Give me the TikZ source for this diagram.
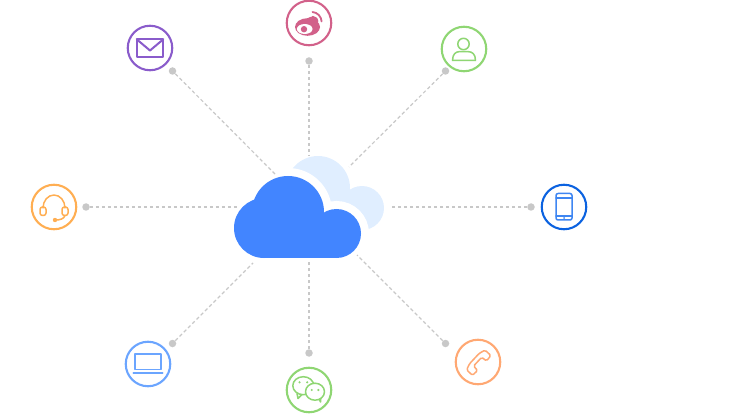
\documentclass[tikz,border=0pt]{standalone}
\usepackage{xcolor}
\definecolor{linegray}{HTML}{C8C8C8}
\definecolor{cloudblue}{HTML}{4285FF}
\definecolor{cloudlight}{HTML}{E0EEFF}
\definecolor{mailcol}{HTML}{8A5CCB}
\definecolor{weibocol}{HTML}{D2618A}
\definecolor{usercol}{HTML}{8FD673}
\definecolor{headcol}{HTML}{FFAE52}
\definecolor{tabletcol}{HTML}{0B62E0}
\definecolor{tabletin}{HTML}{3F86F2}
\definecolor{laptopcol}{HTML}{6BA5FF}
\definecolor{wechatcol}{HTML}{8FD673}
\definecolor{phonecol}{HTML}{FFA873}
\tikzset{
  icon/.style={draw, circle, fill=white, line width=2.1pt, minimum size=44.5pt, inner sep=0pt},
  enddot/.style={circle, fill=linegray, minimum size=7.5pt, inner sep=0pt},
  link/.style={draw=linegray, line width=1.2pt, dash pattern=on 3.5pt off 2.5pt},
  glyph/.style={line width=1.5pt, line join=round, line cap=round}
}
\begin{document}
\begin{tikzpicture}[x=1pt,y=1pt]
        \useasboundingbox (0,0) rectangle (742,413);

        % Back cloud
        \fill[cloudlight] (318,225) circle (32pt);
        \fill[cloudlight] (362,205) circle (22pt);
        \fill[cloudlight] (318,190) rectangle (352,222);

        % Front cloud, white ring first
        \foreach \c/\r in {{(288,201)}/36,{(264,185)}/30,{(336.5,179.5)}/24.5}
            \draw[white, line width=16pt] \c circle (\r pt);
        \fill[white] (264,147) rectangle (336.5,195);
        \foreach \c/\r in {{(288,201)}/36,{(264,185)}/30,{(336.5,179.5)}/24.5}
            \fill[cloudblue] \c circle (\r pt);
        \fill[cloudblue] (264,155) rectangle (336.5,195);

        % Icons
        \node[icon, draw=mailcol] (mail) at (150,365) {};
        \node[icon, draw=weibocol] (weibo) at (309,390) {};
        \node[icon, draw=usercol] (user) at (464,364) {};
        \node[icon, draw=headcol] (headset) at (54,206) {};
        \node[icon, draw=tabletcol] (tablet) at (564,206) {};
        \node[icon, draw=laptopcol] (laptop) at (148,49) {};
        \node[icon, draw=wechatcol] (wechat) at (309,23) {};
        \node[icon, draw=phonecol] (phone) at (478,51) {};

        % End dots
        \node[enddot] (maildot) at (172.5,342) {};
        \node[enddot] (weibodot) at (309,352) {};
        \node[enddot] (userdot) at (445.5,342) {};
        \node[enddot] (headsetdot) at (86,206) {};
        \node[enddot] (tabletdot) at (531,206) {};
        \node[enddot] (laptopdot) at (172.5,69.5) {};
        \node[enddot] (wechatdot) at (309,60) {};
        \node[enddot] (phonedot) at (445.5,69.5) {};

        % Free ends at the cloud
        \coordinate (mailend) at (275,239);
        \coordinate (weiboend) at (309,258);
        \coordinate (userend) at (349,246);
        \coordinate (headsetend) at (238,206);
        \coordinate (tabletend) at (391,206);
        \coordinate (laptopend) at (253,150);
        \coordinate (wechatend) at (309,151);
        \coordinate (phoneend) at (357,158);

        % Connections
        \draw[link] (maildot) -- (mailend);
        \draw[link] (weibodot) -- (weiboend);
        \draw[link] (userdot) -- (userend);
        \draw[link] (headsetdot) -- (headsetend);
        \draw[link] (tabletdot) -- (tabletend);
        \draw[link] (laptopdot) -- (laptopend);
        \draw[link] (wechatdot) -- (wechatend);
        \draw[link] (phonedot) -- (phoneend);

        % Mail glyph
        \begin{scope}[shift={(mail.center)}, glyph, draw=mailcol, line width=2pt]
            \draw (-13.3,-9) rectangle (13.3,8.7);
            \draw (-13.3,8.7) -- (0,-2.5) -- (13.3,8.7);
        \end{scope}

        % Weibo glyph
        \begin{scope}[shift={(weibo.center)}]
            \fill[weibocol] (-1.5,-4) ellipse (12.5pt and 8.8pt);
            \fill[weibocol, rotate around={35:(1.5,-0.5)}] (1.5,-0.5) ellipse (8.5pt and 6pt);
            \fill[white] (-4.3,-6) ellipse (7.8pt and 5pt);
            \fill[weibocol] (-5,-6.2) circle (3.2pt);
            \draw[weibocol, line width=1.8pt, line cap=round] (3.5,6.3) arc (85:5:5.3pt);
            \draw[weibocol, line width=1.8pt, line cap=round] (3.5,11) arc (85:3:10pt);
        \end{scope}

        % User glyph
        \begin{scope}[shift={(user.center)}, glyph, draw=usercol]
            \draw (-0.5,5) circle (5.7pt);
            \draw (-11.5,-11.5) .. controls (-11.5,-5) and (-8,-2.7) .. (-5,-2.7) -- (4.5,-2.7)
                .. controls (8,-2.7) and (11.5,-5) .. (11.5,-11.5) -- cycle;
        \end{scope}

        % Headset glyph
        \begin{scope}[shift={(headset.center)}, glyph, draw=headcol]
            \draw (-11,-1) arc (180:0:11pt and 13pt);
            \draw[rounded corners=2.5pt] (-14,-8.5) rectangle (-8,0);
            \draw[rounded corners=2.5pt] (8,-8.5) rectangle (14,0);
            \draw (11,-8.5) .. controls (10,-12) and (6,-13) .. (1,-13);
            \fill[headcol] (1,-13) circle (2.2pt);
        \end{scope}

        % Tablet glyph
        \begin{scope}[shift={(tablet.center)}, glyph, draw=tabletin]
            \draw[rounded corners=2pt] (-8,-13) rectangle (8,13.5);
            \draw (-8,9) -- (8,9);
            \draw (-8,-9) -- (8,-9);
            \fill[tabletin] (0,-11) circle (1pt);
        \end{scope}

        % Laptop glyph
        \begin{scope}[shift={(laptop.center)}, glyph, draw=laptopcol]
            \draw (-13,-5.3) rectangle (13,10);
            \draw (-14.7,-9) -- (14.7,-9);
        \end{scope}

        % Wechat glyph
        \begin{scope}[shift={(wechat.center)}, glyph, draw=wechatcol]
            \draw[fill=white] (-12,-3.5) -- (-11,-8.5) -- (-7,-4.5);
            \draw[fill=white] (-5.7,4.3) ellipse (10.5pt and 9pt);
            \draw[fill=white] (9.5,-8) -- (11.5,-12) -- (12,-6);
            \draw[fill=white] (6,-1.7) ellipse (9.5pt and 8.5pt);
            \fill[wechatcol] (-9.5,7.7) circle (1.2pt);
            \fill[wechatcol] (-1.8,7.7) circle (1.2pt);
            \fill[wechatcol] (2.7,0) circle (1.2pt);
            \fill[wechatcol] (9.3,0) circle (1.2pt);
        \end{scope}

        % Phone glyph
        \begin{scope}[shift={(phone.center)}, rotate=47, glyph, draw=phonecol]
            \draw[rounded corners=1.5pt] (-13.5,3) -- (-7,5) -- (7,5) -- (13.5,3)
                -- (13.5,-5) -- (6.5,-5.5) -- (6,0.5) -- (-6,0.5) -- (-6.5,-5.5) -- (-13.5,-5) -- cycle;
        \end{scope}
    \end{tikzpicture}
\end{document}
